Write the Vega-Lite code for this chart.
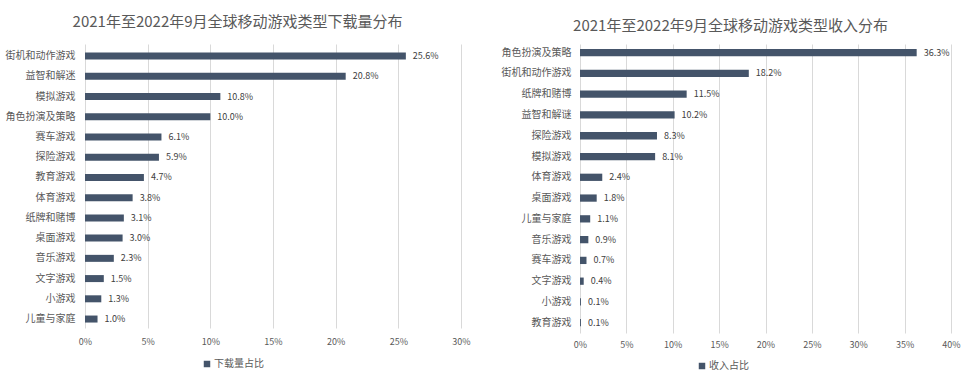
{
  "$schema": "https://vega.github.io/schema/vega-lite/v6.json",
  "background": "white",
  "padding": {"left": 5, "top": 15, "right": 5, "bottom": 5},
  "spacing": 30,
  "config": {
    "font": "Noto Sans CJK SC",
    "view": {"stroke": null},
    "title": {"fontSize": 15, "fontWeight": "normal", "color": "#595959", "frame": "bounds", "anchor": "middle"},
    "axisY": {"labelFontSize": 10, "labelColor": "#595959", "ticks": false, "domain": false, "grid": false, "title": null},
    "axisX": {"labelFontSize": 9, "labelColor": "#595959", "ticks": false, "domain": false, "grid": true, "gridColor": "#d9d9d9", "gridWidth": 1, "labelFlush": false, "labelOverlap": false, "title": null, "format": ".0%"},
    "legend": {"title": null, "orient": "none", "symbolType": "square", "symbolSize": 42, "symbolStrokeWidth": 0, "labelFontSize": 10, "labelColor": "#595959", "labelOffset": 2, "direction": "horizontal"}
  },
  "datasets": {
    "download": [
      {"类别": "街机和动作游戏", "占比": 0.256, "系列": "下载量占比"},
      {"类别": "益智和解迷", "占比": 0.208, "系列": "下载量占比"},
      {"类别": "模拟游戏", "占比": 0.108, "系列": "下载量占比"},
      {"类别": "角色扮演及策略", "占比": 0.100, "系列": "下载量占比"},
      {"类别": "赛车游戏", "占比": 0.061, "系列": "下载量占比"},
      {"类别": "探险游戏", "占比": 0.059, "系列": "下载量占比"},
      {"类别": "教育游戏", "占比": 0.047, "系列": "下载量占比"},
      {"类别": "体育游戏", "占比": 0.038, "系列": "下载量占比"},
      {"类别": "纸牌和赌博", "占比": 0.031, "系列": "下载量占比"},
      {"类别": "桌面游戏", "占比": 0.030, "系列": "下载量占比"},
      {"类别": "音乐游戏", "占比": 0.023, "系列": "下载量占比"},
      {"类别": "文字游戏", "占比": 0.015, "系列": "下载量占比"},
      {"类别": "小游戏", "占比": 0.013, "系列": "下载量占比"},
      {"类别": "儿童与家庭", "占比": 0.010, "系列": "下载量占比"}
    ],
    "revenue": [
      {"类别": "角色扮演及策略", "占比": 0.363, "系列": "收入占比"},
      {"类别": "街机和动作游戏", "占比": 0.182, "系列": "收入占比"},
      {"类别": "纸牌和赌博", "占比": 0.115, "系列": "收入占比"},
      {"类别": "益智和解谜", "占比": 0.102, "系列": "收入占比"},
      {"类别": "探险游戏", "占比": 0.083, "系列": "收入占比"},
      {"类别": "模拟游戏", "占比": 0.081, "系列": "收入占比"},
      {"类别": "体育游戏", "占比": 0.024, "系列": "收入占比"},
      {"类别": "桌面游戏", "占比": 0.018, "系列": "收入占比"},
      {"类别": "儿童与家庭", "占比": 0.011, "系列": "收入占比"},
      {"类别": "音乐游戏", "占比": 0.009, "系列": "收入占比"},
      {"类别": "赛车游戏", "占比": 0.007, "系列": "收入占比"},
      {"类别": "文字游戏", "占比": 0.004, "系列": "收入占比"},
      {"类别": "小游戏", "占比": 0.001, "系列": "收入占比"},
      {"类别": "教育游戏", "占比": 0.001, "系列": "收入占比"}
    ]
  },
  "hconcat": [
    {
      "title": {"text": "2021年至2022年9月全球移动游戏类型下载量分布", "offset": 14},
      "width": 376,
      "height": 284,
      "data": {"name": "download"},
      "encoding": {
        "y": {"field": "类别", "type": "nominal", "sort": null, "scale": {"paddingInner": 0.654, "paddingOuter": 0.346, "align": 0.61}, "axis": {"labelPadding": 10}},
        "x": {"field": "占比", "type": "quantitative", "scale": {"domain": [0, 0.3]}, "axis": {"values": [0, 0.05, 0.1, 0.15, 0.2, 0.25, 0.3], "labelPadding": 9}}
      },
      "layer": [
        {
          "mark": {"type": "bar"},
          "encoding": {
            "color": {"field": "系列", "type": "nominal", "scale": {"range": ["#44546A"]}, "legend": {"legendX": 117, "legendY": 315}}
          }
        },
        {
          "mark": {"type": "text", "align": "left", "baseline": "middle", "dx": 7, "fontSize": 9, "color": "#404040"},
          "encoding": {"text": {"field": "占比", "type": "quantitative", "format": ".1%"}}
        }
      ]
    },
    {
      "title": {"text": "2021年至2022年9月全球移动游戏类型收入分布", "offset": 10},
      "width": 371,
      "height": 289,
      "data": {"name": "revenue"},
      "encoding": {
        "y": {"field": "类别", "type": "nominal", "sort": null, "scale": {"paddingInner": 0.65, "paddingOuter": 0.28, "align": 0.43}, "axis": {"labelPadding": 9}},
        "x": {"field": "占比", "type": "quantitative", "scale": {"domain": [0, 0.4]}, "axis": {"values": [0, 0.05, 0.1, 0.15, 0.2, 0.25, 0.3, 0.35, 0.4], "labelPadding": 7}}
      },
      "layer": [
        {
          "mark": {"type": "bar"},
          "encoding": {
            "color": {"field": "系列", "type": "nominal", "scale": {"range": ["#44546A"]}, "legend": {"legendX": 117, "legendY": 317}}
          }
        },
        {
          "mark": {"type": "text", "align": "left", "baseline": "middle", "dx": 7, "fontSize": 9, "color": "#404040"},
          "encoding": {"text": {"field": "占比", "type": "quantitative", "format": ".1%"}}
        }
      ]
    }
  ],
  "resolve": {"scale": {"color": "independent"}}
}
